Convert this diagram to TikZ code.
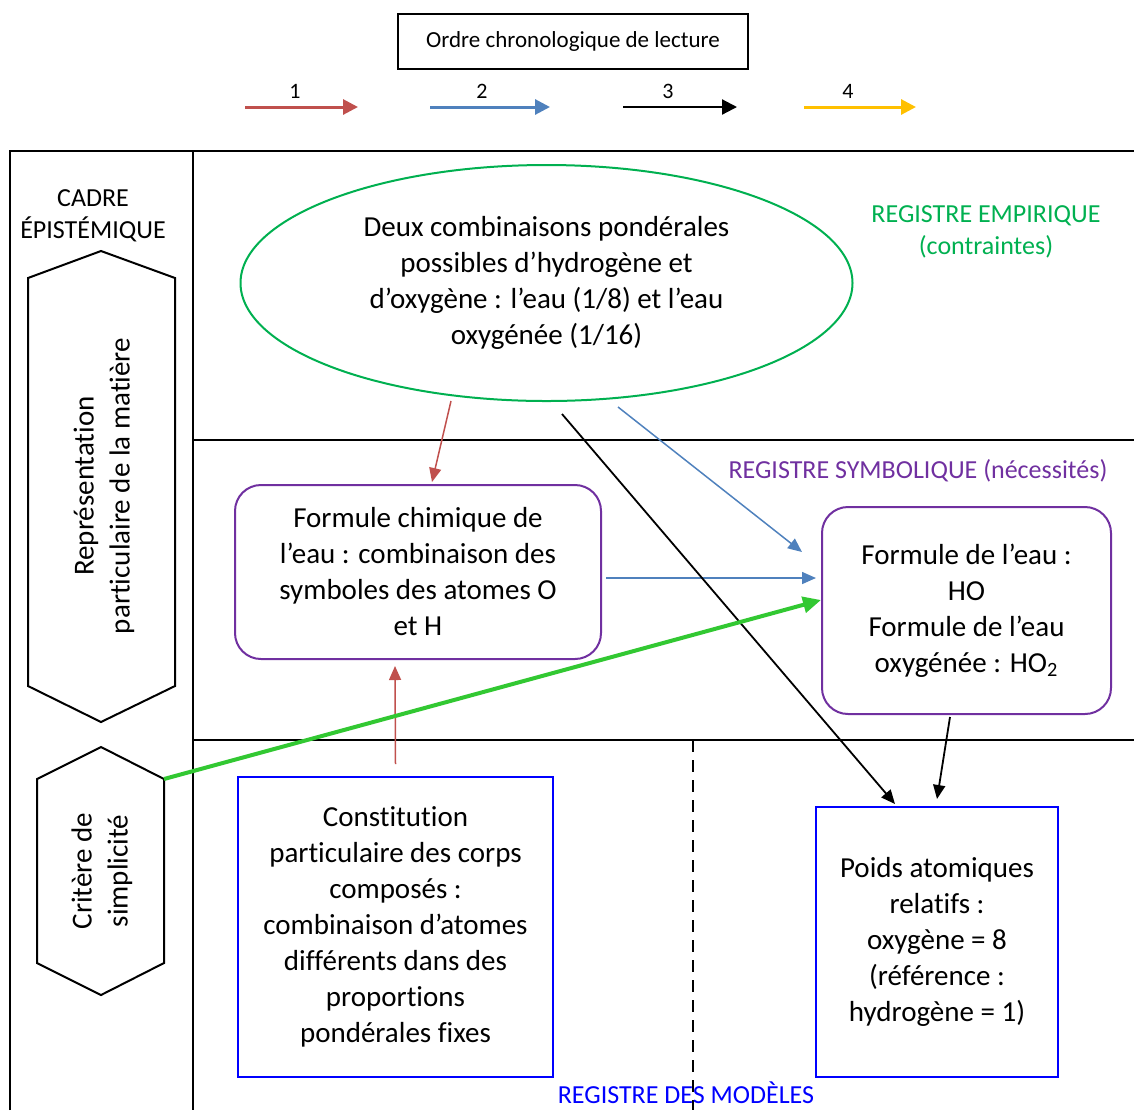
\documentclass[tikz,border=0pt]{standalone}
\usepackage{fontspec}
\setmainfont{Carlito}[Ligatures=NoCommon,RawFeature={-calt;-clig;-dlig}]
\usetikzlibrary{arrows.meta,positioning,shapes.geometric,calc}
\definecolor{arrred}{RGB}{192,80,77}
\definecolor{arrblue}{RGB}{79,129,189}
\definecolor{arryellow}{RGB}{255,192,0}
\definecolor{arrgreen}{RGB}{50,200,50}
\definecolor{empgreen}{RGB}{0,176,80}
\definecolor{sympurple}{RGB}{112,48,160}
\definecolor{modblue}{RGB}{0,0,255}
\tikzset{
  txt/.style={font=\fontsize{14.5}{18}\selectfont,align=center,text=black},
  reg/.style={font=\fontsize{13}{16}\selectfont,align=center},
  frame/.style={draw=black,line width=1pt},
  hexa/.style={draw=black,line width=1pt},
  empbox/.style={txt,ellipse,draw=empgreen,line width=1pt,minimum width=306pt,minimum height=118pt,inner sep=0pt},
  symbox/.style={txt,draw=sympurple,line width=1pt,rounded corners=13pt,inner sep=0pt},
  modbox/.style={txt,draw=modblue,line width=1pt,inner sep=0pt},
  arr/.style={-{Triangle[length=7pt,width=6pt]},line width=0.75pt},
  legarr/.style={-{Triangle[length=7.5pt,width=7.5pt]},line width=1.5pt}
}

\begin{document}
\begin{tikzpicture}[x=0.5pt,y=-0.5pt]
  \useasboundingbox (0,0) rectangle (1134,1110);

  % legende
  \node[draw,line width=0.8pt,minimum width=175pt,minimum height=27.5pt,font=\fontsize{11.5}{14}\selectfont] (ordre) at (573,41.5) {Ordre chronologique de lecture};
  \node[font=\fontsize{11}{13}\selectfont] (n1) at (295,91) {1};
  \node[font=\fontsize{11}{13}\selectfont] (n2) at (482,91) {2};
  \node[font=\fontsize{11}{13}\selectfont] (n3) at (668,91) {3};
  \node[font=\fontsize{11}{13}\selectfont] (n4) at (848,91) {4};
  \coordinate (a1) at (245,107); \coordinate (b1) at (358,107);
  \coordinate (a2) at (430,107); \coordinate (b2) at (550,107);
  \coordinate (a3) at (623,107); \coordinate (b3) at (737,107);
  \coordinate (a4) at (804,107); \coordinate (b4) at (916,107);
  \draw[legarr,arrred] (a1) -- (b1);
  \draw[legarr,arrblue] (a2) -- (b2);
  \draw[legarr,black,line width=1.1pt] (a3) -- (b3);
  \draw[legarr,arryellow] (a4) -- (b4);

  % cadre
  \draw[frame] (10,1110) -- (10,151) -- (1134,151);
  \draw[frame] (193,151) -- (193,1110);
  \draw[frame] (193,440) -- (1134,440);
  \draw[frame] (193,740) -- (1134,740);
  \draw[frame,dash pattern=on 6pt off 4pt] (693,740) -- (693,1110);

  \node[reg] (cadre) at (93,216) {CADRE\\ÉPISTÉMIQUE};
  \draw[hexa] (101,251) -- (175,278) -- (175,686) -- (101,722) -- (28,686) -- (28,278) -- cycle;
  \node[txt,rotate=90] (repr) at (104,486) {Représentation\\particulaire de la matière};
  \draw[hexa] (101,747) -- (164,779) -- (164,963) -- (101,995) -- (37,963) -- (37,779) -- cycle;
  \coordinate (critcoin) at (164,779);
  \node[txt,rotate=90] (crit) at (102,871) {Critère de\\simplicité};

  % registres
  \node[reg,text=empgreen] (regemp) at (986,232) {REGISTRE EMPIRIQUE\\(contraintes)};
  \node[reg,text=sympurple] (regsym) at (918,471) {REGISTRE SYMBOLIQUE (nécessités)};
  \node[reg,text=modblue] (regmod) at (686,1093) {REGISTRE DES MODÈLES};

  \node[empbox] (empir) at (546.5,283) {Deux combinaisons pondérales\\possibles d’hydrogène et\\d’oxygène : l’eau (1/8) et l’eau\\oxygénée (1/16)};
  \node[symbox,minimum width=183pt,minimum height=87pt] (formchim) at (418,572) {Formule chimique de\\l’eau : combinaison des\\symboles des atomes O\\et H};
  \node[symbox,minimum width=144.5pt,minimum height=103.5pt] (formeau) at (966.5,610.5) {Formule de l’eau :\\HO\\Formule de l’eau\\oxygénée : HO\textsubscript{2}};
  \node[modbox,minimum width=157.5pt,minimum height=150pt] (constit) at (395.5,927) {Constitution\\particulaire des corps\\composés :\\combinaison d’atomes\\différents dans des\\proportions\\pondérales fixes};
  \node[modbox,minimum width=121pt,minimum height=135pt] (poids) at (937,942) {Poids atomiques\\relatifs :\\oxygène = 8\\(référence :\\hydrogène = 1)};

  % fleches
  \draw[arr,arrred] ($(empir.south)+(-95.5,-1)$) -- ($(formchim.north)+(14,-2)$);
  \draw[arr,arrred] ($(constit.north)+(0,-12)$) -- ($(formchim.south)+(-23,6)$);
  \draw[arr,arrblue] ($(empir.south)+(71.5,5)$) -- ($(formeau.west)+(-19,-58.5)$);
  \draw[arr,arrblue] ($(formchim.east)+(4,6)$) -- ($(formeau.west)+(-5,-32.5)$);
  \draw[arr,black,line width=0.9pt] ($(empir.south)+(15.5,12)$) -- ($(poids.north)+(-42,-2)$);
  \draw[arr,black,line width=0.9pt] ($(formeau.south)+(-16.5,2)$) -- ($(poids.north)+(0,-7)$);
  \draw[-{Triangle[length=9pt,width=8pt]},arrgreen,line width=2pt] (critcoin) -- ($(formeau.west)+(0,-10.5)$);
\end{tikzpicture}
\end{document}
